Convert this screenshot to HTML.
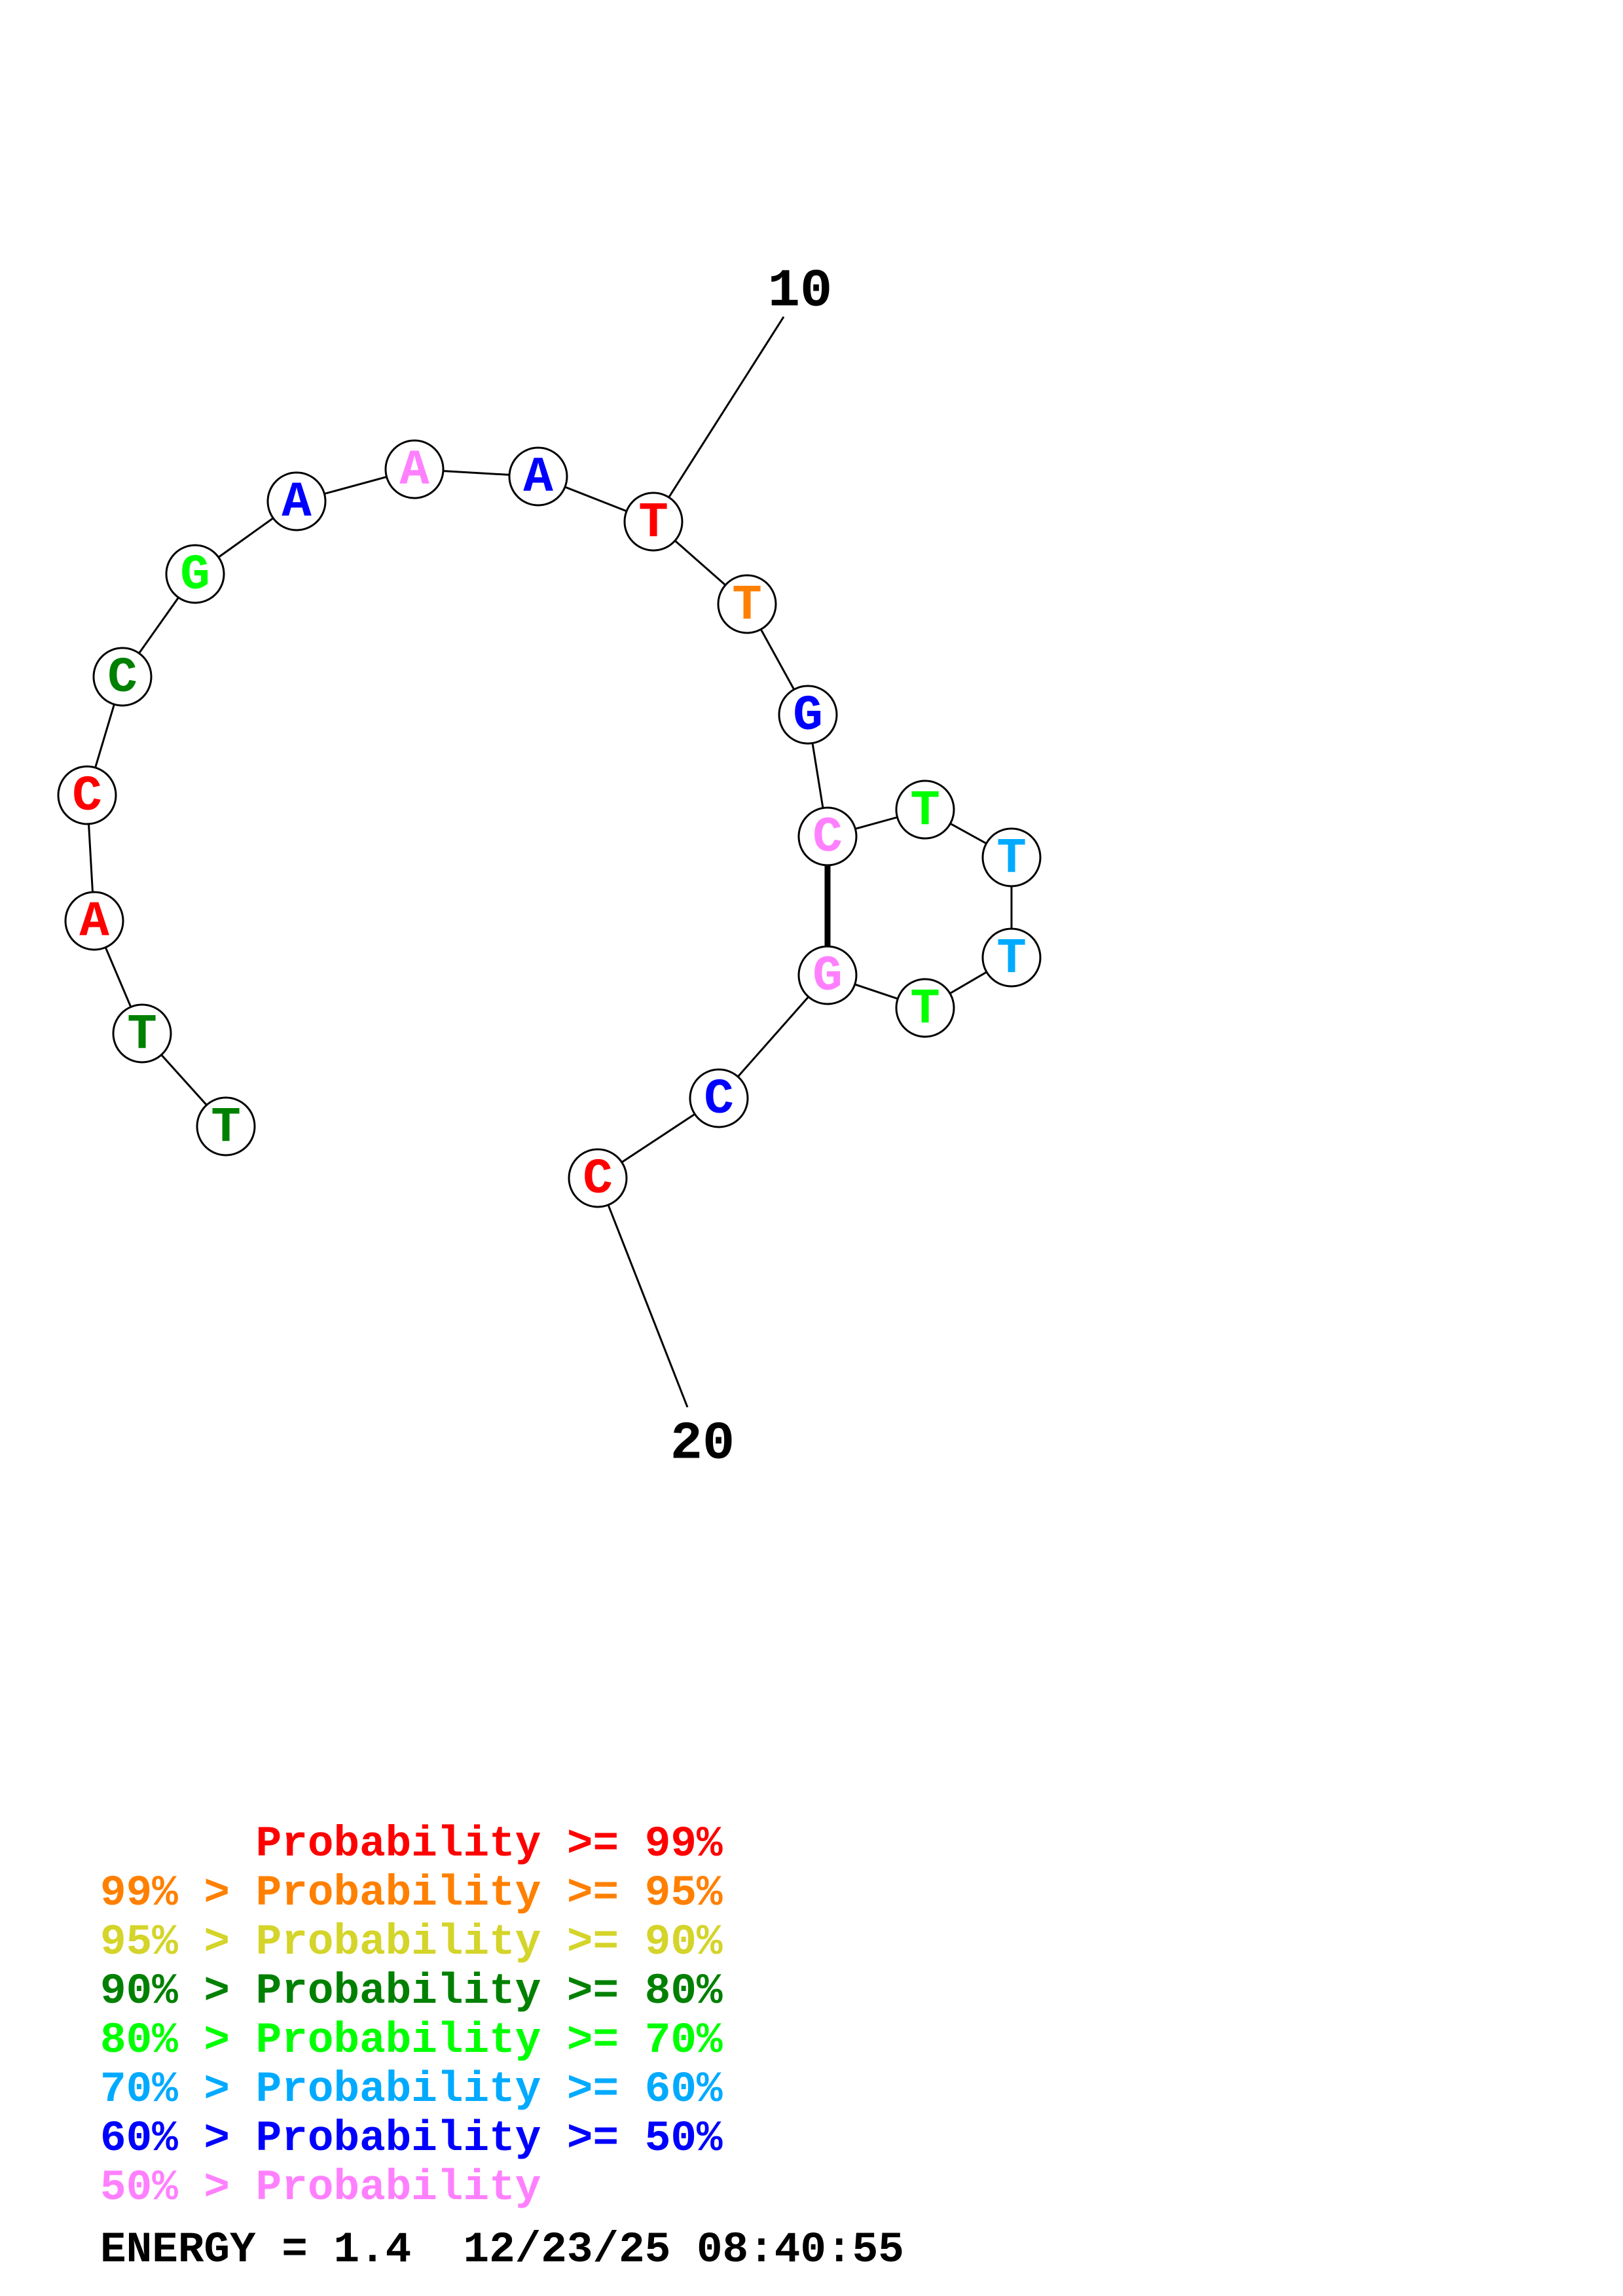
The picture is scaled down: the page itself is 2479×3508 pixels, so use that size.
<!DOCTYPE html>
<html><head><meta charset="utf-8"><style>html,body{margin:0;padding:0;background:#fff}svg{display:block}text{white-space:pre}</style></head>
<body>
<svg width="2479" height="3508" viewBox="0 0 2479 3508" xmlns="http://www.w3.org/2000/svg" font-family="Liberation Mono, monospace" font-weight="bold">
<g transform="translate(-5,0)">
<g stroke="#000" stroke-width="3" fill="none">
<polyline points="350,1721 222,1579 149,1407 138,1215 192,1034 303,877 458,766 638,717 827,728 1003,797 1146,923 1239,1092 1269,1278 1418,1237 1550,1310 1550,1463 1418,1540 1269,1490 1103,1678 918,1800 1055,2150"/>
<line x1="1003" y1="797" x2="1202" y2="484"/>
<line x1="1269" y1="1278" x2="1269" y2="1490" stroke-width="9"/>
</g>
<g stroke="#000" stroke-width="3" fill="#fff">
<circle cx="350" cy="1721" r="44"/><circle cx="222" cy="1579" r="44"/><circle cx="149" cy="1407" r="44"/><circle cx="138" cy="1215" r="44"/><circle cx="192" cy="1034" r="44"/><circle cx="303" cy="877" r="44"/><circle cx="458" cy="766" r="44"/><circle cx="638" cy="717" r="44"/><circle cx="827" cy="728" r="44"/><circle cx="1003" cy="797" r="44"/><circle cx="1146" cy="923" r="44"/><circle cx="1239" cy="1092" r="44"/><circle cx="1269" cy="1278" r="44"/><circle cx="1418" cy="1237" r="44"/><circle cx="1550" cy="1310" r="44"/><circle cx="1550" cy="1463" r="44"/><circle cx="1418" cy="1540" r="44"/><circle cx="1269" cy="1490" r="44"/><circle cx="1103" cy="1678" r="44"/><circle cx="918" cy="1800" r="44"/>
</g>
<g font-size="76" text-anchor="middle" dominant-baseline="central">
<text x="350" y="1723" fill="#008000">T</text>
<text x="222" y="1581" fill="#008000">T</text>
<text x="149" y="1409" fill="#ff0000">A</text>
<text x="138" y="1217" fill="#ff0000">C</text>
<text x="192" y="1036" fill="#008000">C</text>
<text x="303" y="879" fill="#00ff00">G</text>
<text x="458" y="768" fill="#0000ff">A</text>
<text x="638" y="719" fill="#ff80ff">A</text>
<text x="827" y="730" fill="#0000ff">A</text>
<text x="1003" y="799" fill="#ff0000">T</text>
<text x="1146" y="925" fill="#ff8000">T</text>
<text x="1239" y="1094" fill="#0000ff">G</text>
<text x="1269" y="1280" fill="#ff80ff">C</text>
<text x="1418" y="1239" fill="#00ff00">T</text>
<text x="1550" y="1312" fill="#00aaff">T</text>
<text x="1550" y="1465" fill="#00aaff">T</text>
<text x="1418" y="1542" fill="#00ff00">T</text>
<text x="1269" y="1492" fill="#ff80ff">G</text>
<text x="1103" y="1680" fill="#0000ff">C</text>
<text x="918" y="1802" fill="#ff0000">C</text>
</g>
</g>
<g font-size="82" text-anchor="middle" dominant-baseline="central" fill="#000">
<text x="1222" y="445">10</text>
<text x="1073" y="2206">20</text>
</g>
<g font-size="66">
<text x="153" y="2835" fill="#ff0000">      Probability &gt;= 99%</text>
<text x="153" y="2910" fill="#ff8000">99% &gt; Probability &gt;= 95%</text>
<text x="153" y="2985" fill="#d4d42a">95% &gt; Probability &gt;= 90%</text>
<text x="153" y="3060" fill="#008000">90% &gt; Probability &gt;= 80%</text>
<text x="153" y="3135" fill="#00ff00">80% &gt; Probability &gt;= 70%</text>
<text x="153" y="3210" fill="#00aaff">70% &gt; Probability &gt;= 60%</text>
<text x="153" y="3285" fill="#0000ff">60% &gt; Probability &gt;= 50%</text>
<text x="153" y="3360" fill="#ff80ff">50% &gt; Probability</text>
<text x="153" y="3455" fill="#000" font-size="66">ENERGY = 1.4  12/23/25 08:40:55</text>
</g>
</svg>
</body></html>
